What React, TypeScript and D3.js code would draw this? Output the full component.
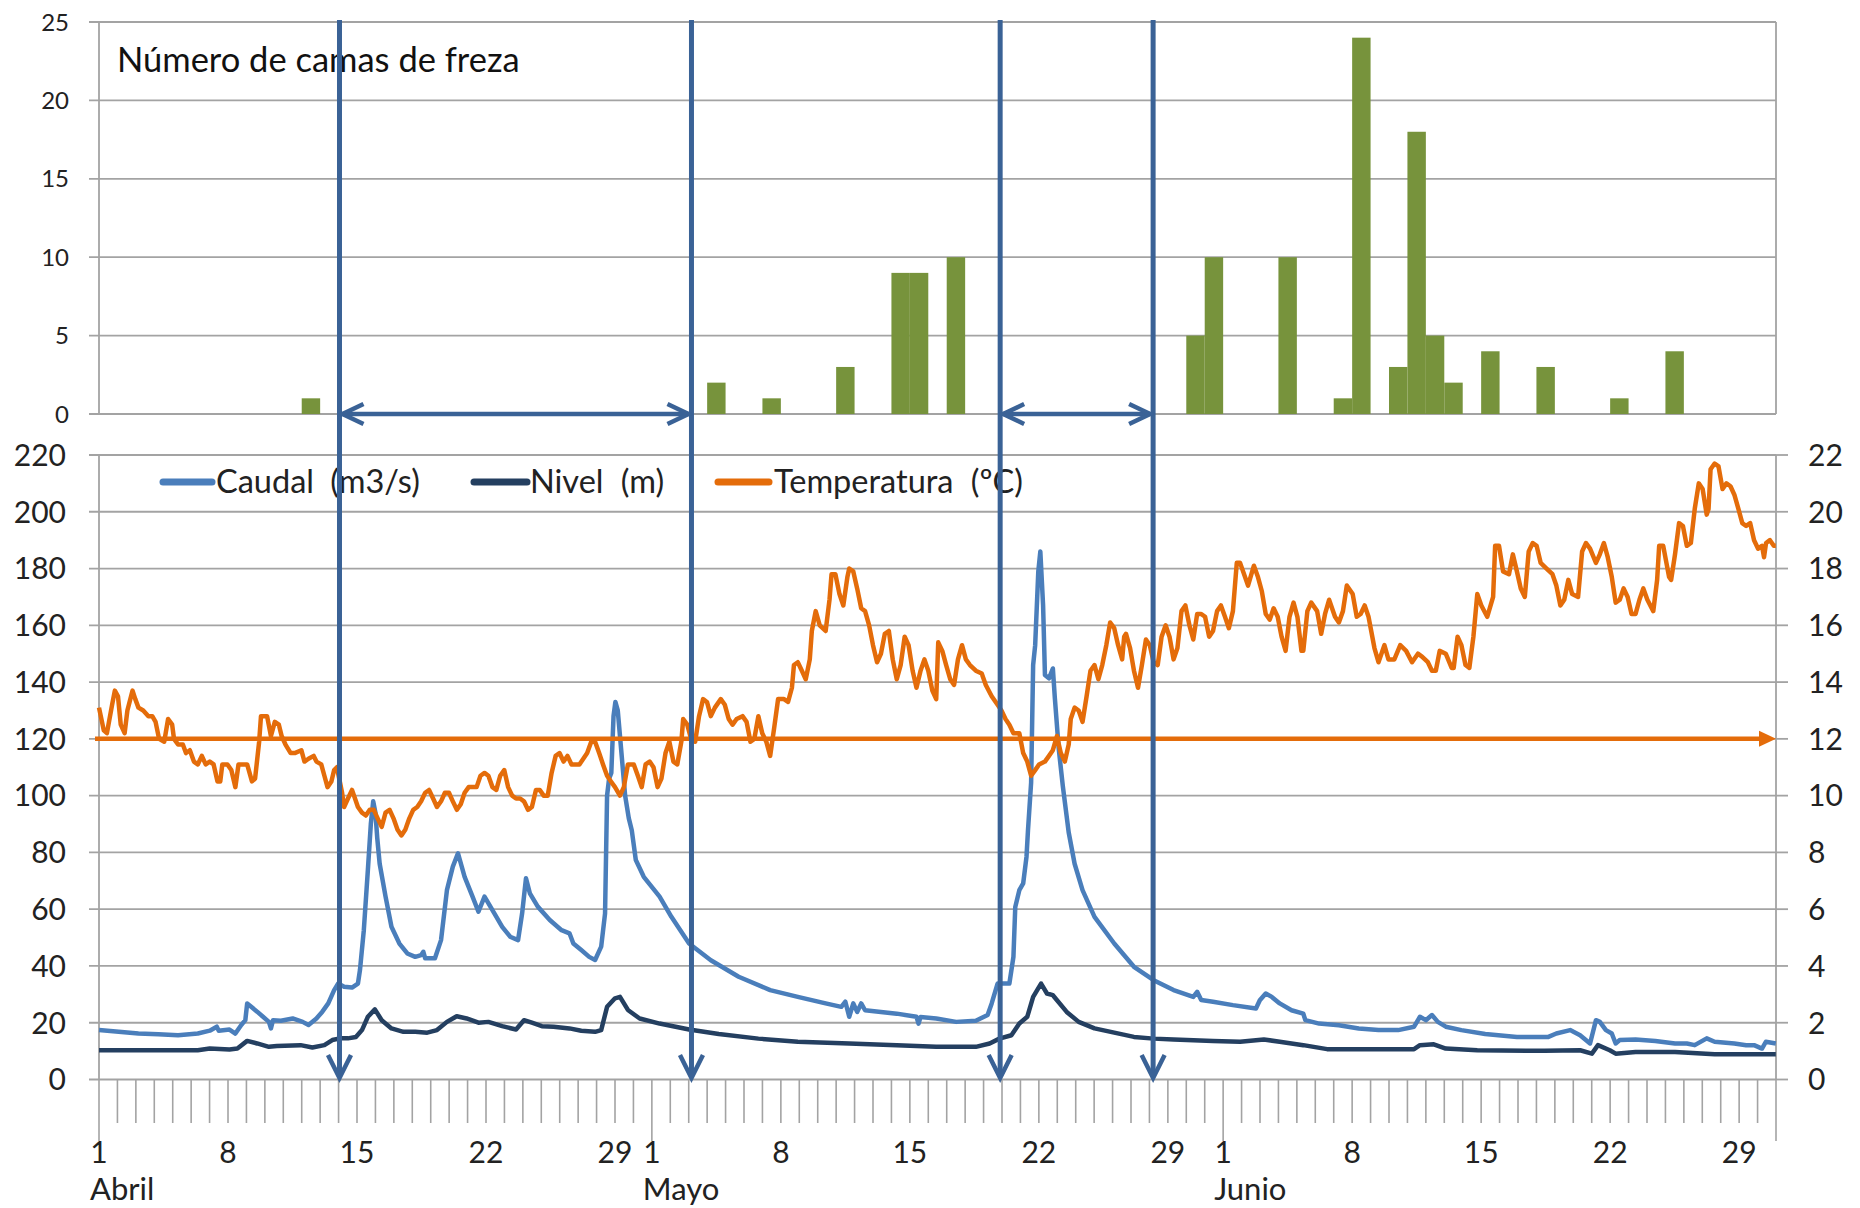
import * as d3 from 'd3';
import React from 'react';

// dias contados desde el 1 de abril (0 = 1 abril, 30 = 1 mayo, 61 = 1 junio, 91 = 1 julio)
const meses = ['Abril', 'Mayo', 'Junio'];
const inicioMes = [0, 30, 61];
const diasMes = [30, 31, 30];
const diasEtiqueta = [1, 8, 15, 22, 29];

// numero de camas de freza por dia
const camasDia = [11, 33, 36, 40, 43, 44, 46, 59, 60, 64, 67, 68, 70, 71, 72, 73, 75, 78, 82, 85];
const camasNum = [1, 2, 1, 3, 9, 9, 10, 5, 10, 10, 1, 24, 3, 18, 5, 2, 4, 3, 1, 4];

// periodos marcados con flechas (dia)
const flechasDia = [13.05, 32.15, 48.9, 57.2];
const periodos = [[13.05, 32.15], [48.9, 57.2]];

const umbralTemp = 12;

const ticksTop = [0, 5, 10, 15, 20, 25];
const ticksIzq = [0, 20, 40, 60, 80, 100, 120, 140, 160, 180, 200, 220];
const ticksDer = [0, 2, 4, 6, 8, 10, 12, 14, 16, 18, 20, 22];

// Caudal (m3/s) [dia, valor]
const caudal = [
  [0, 17.4], [1.07, 16.8], [2.14, 16.2], [3.22, 15.9], [4.29, 15.6], [5.36, 16.2], [6.01, 17.2], [6.39, 18.6], [6.5, 17.2],
  [7.08, 17.6], [7.4, 16.2], [7.72, 19.2], [7.94, 20.9], [8.04, 26.8], [8.26, 25.6], [8.58, 23.9], [8.9, 22.1], [9.22, 20.3],
  [9.33, 18.0], [9.44, 20.9], [9.87, 20.7], [10.51, 21.5], [11.05, 20.3], [11.37, 19.2], [11.8, 21.5], [12.12, 23.9],
  [12.44, 26.8], [12.76, 31.5], [12.98, 33.8], [13.3, 32.7], [13.73, 32.4], [14.05, 33.8], [14.16, 38.5], [14.37, 52.6],
  [14.59, 73.8], [14.75, 90], [14.88, 98], [15.0, 94], [15.1, 85], [15.23, 76], [15.55, 64.4], [15.87, 53.8], [16.3, 47.9],
  [16.73, 44.4], [17.16, 43.2], [17.48, 43.8], [17.6, 45], [17.7, 42.7], [18.23, 42.7], [18.56, 49.1], [18.88, 66.7],
  [19.2, 75], [19.48, 79.7], [19.84, 71.4], [20.27, 64.4], [20.59, 59.1], [20.92, 64.4], [21.35, 59.7], [21.88, 53.8],
  [22.31, 50.3], [22.74, 49.1], [22.96, 58.5], [23.17, 70.9], [23.38, 65.6], [23.81, 60.9], [24.46, 56.2], [25.1, 52.6],
  [25.53, 51.5], [25.74, 47.9], [26.17, 45.6], [26.6, 43.2], [26.92, 42.1], [27.25, 46.8], [27.46, 58.5], [27.57, 100],
  [27.68, 106], [27.8, 108], [27.92, 128], [28.02, 133], [28.15, 130], [28.35, 115], [28.55, 100], [28.75, 92],
  [28.91, 87.8], [29.13, 77.3], [29.56, 71.4], [30.42, 64.4], [31.06, 57.3], [32.02, 47.9], [33.2, 42], [34.71, 36.2],
  [36.42, 31.5], [37.92, 29.1], [39.43, 26.8], [40.28, 25.6], [40.5, 27.4], [40.71, 22.1], [40.93, 26.8], [41.14, 23.8],
  [41.36, 26.8], [41.57, 24.4], [43.29, 23.2], [44.36, 22.1], [44.47, 19.7], [44.58, 22], [45.43, 21.5], [46.51, 20.3],
  [47.58, 20.7], [48.22, 22.7], [48.44, 26.8], [48.76, 33.8], [49.4, 33.8], [49.62, 43.2], [49.72, 60.8], [49.94, 66.7],
  [50.15, 69.1], [50.33, 78.5], [50.41, 87.8], [50.58, 104.6], [50.69, 146], [50.8, 153], [50.97, 179], [51.08, 186],
  [51.23, 167], [51.33, 142.5], [51.55, 141.3], [51.76, 144.8], [51.87, 134.2], [52.08, 116.4], [52.3, 103.4],
  [52.62, 87], [52.94, 76], [53.37, 66.7], [54.02, 57.3], [55.09, 47.9], [56.16, 39.7], [57.23, 35], [58.31, 31.5],
  [59.38, 29.1], [59.59, 30.9], [59.81, 28], [60.45, 27.4], [61.53, 26.2], [62.78, 25], [62.99, 27.9], [63.31, 30.3],
  [63.64, 29.1], [64.07, 26.8], [64.71, 24.4], [65.35, 23.2], [65.46, 20.9], [66.21, 19.7], [67.28, 19.1], [68.36, 18],
  [69.43, 17.4], [70.5, 17.4], [71.36, 18.6], [71.68, 22.1], [72, 20.9], [72.33, 22.7], [72.65, 20.3], [73.08, 18.6],
  [73.93, 17.4], [75.22, 16], [76.94, 15], [78.65, 15], [79.08, 16.2], [79.83, 17.4], [80.37, 15.6], [80.91, 12.7],
  [81.23, 20.9], [81.44, 20.3], [81.77, 17.4], [82.09, 16.2], [82.3, 12.7], [82.52, 13.9], [83.38, 14.1], [84.45, 13.6],
  [85.52, 12.7], [86.16, 12.7], [86.59, 12.1], [87.24, 14.5], [87.67, 13.3], [88.74, 12.7], [89.38, 12.1], [89.81, 12.1],
  [90.24, 10.9], [90.45, 13.3], [90.99, 12.7],
];

// Nivel (m) [dia, valor]
const nivel = [
  [0, 1.03], [5.36, 1.03], [6.01, 1.09], [7.08, 1.06], [7.51, 1.09], [8.04, 1.36], [8.58, 1.27], [9.22, 1.15], [9.65, 1.18],
  [10.94, 1.21], [11.58, 1.13], [12.23, 1.21], [12.66, 1.39], [13.08, 1.45], [13.51, 1.45], [13.94, 1.5], [14.27, 1.74],
  [14.59, 2.21], [14.97, 2.47], [15.34, 2.09], [15.87, 1.8], [16.52, 1.68], [17.16, 1.68], [17.81, 1.65], [18.34, 1.74],
  [18.88, 2.03], [19.41, 2.23], [19.95, 2.15], [20.59, 2.0], [21.13, 2.03], [21.88, 1.88], [22.63, 1.76], [23.06, 2.09],
  [23.49, 2.0], [24.03, 1.88], [24.67, 1.86], [25.53, 1.8], [26.17, 1.72], [26.92, 1.68], [27.25, 1.74], [27.57, 2.56],
  [28.0, 2.86], [28.27, 2.91], [28.7, 2.45], [29.34, 2.15], [30.42, 1.97], [32.02, 1.76], [33.63, 1.6], [35.78, 1.44],
  [37.92, 1.33], [40.71, 1.27], [43.29, 1.21], [45.43, 1.15], [47.58, 1.15], [48.33, 1.27], [48.86, 1.44], [49.51, 1.56],
  [49.94, 1.97], [50.37, 2.21], [50.69, 2.91], [51.12, 3.38], [51.44, 3.03], [51.76, 2.97], [52.51, 2.38], [53.16, 2.03],
  [54.02, 1.8], [55.09, 1.65], [56.16, 1.5], [57.23, 1.44], [58.31, 1.41], [60.45, 1.36], [61.92, 1.33], [63.21, 1.41],
  [64.07, 1.33], [65.35, 1.21], [66.64, 1.07], [71.36, 1.07], [71.68, 1.21], [72.43, 1.24], [73.08, 1.09], [74.79, 1.03],
  [78.44, 1.01], [80.37, 1.03], [81.01, 0.91], [81.34, 1.21], [81.98, 1.03], [82.3, 0.91], [83.38, 0.97], [85.52, 0.97],
  [87.67, 0.89], [90.99, 0.89],
];

// Temperatura (ºC) [dia, valor]
const temperatura = [
  [0, 13.1], [0.26, 12.3], [0.43, 12.2], [0.71, 13.2], [0.86, 13.7], [1.03, 13.5], [1.18, 12.5], [1.39, 12.2], [1.54, 13.0],
  [1.82, 13.7], [1.97, 13.4], [2.14, 13.1], [2.4, 13.0], [2.68, 12.8], [2.89, 12.8], [3.07, 12.6], [3.26, 12.0], [3.54, 11.9],
  [3.75, 12.7], [3.97, 12.5], [4.07, 12.0], [4.29, 11.8], [4.55, 11.8], [4.72, 11.5], [4.93, 11.6], [5.15, 11.2], [5.36, 11.1],
  [5.58, 11.4], [5.79, 11.1], [6.01, 11.2], [6.22, 11.1], [6.43, 10.5], [6.58, 10.5], [6.69, 11.1], [6.97, 11.1], [7.18, 10.9],
  [7.4, 10.3], [7.57, 11.1], [7.83, 11.1], [8.04, 11.1], [8.3, 10.5], [8.47, 10.6], [8.69, 11.9], [8.79, 12.8], [9.12, 12.8],
  [9.33, 12.1], [9.54, 12.6], [9.76, 12.5], [9.91, 12.1], [10.12, 11.8], [10.4, 11.5], [10.62, 11.5], [10.98, 11.6],
  [11.15, 11.2], [11.37, 11.3], [11.65, 11.4], [11.8, 11.2], [12.06, 11.1], [12.23, 10.7], [12.4, 10.3], [12.61, 10.5],
  [12.76, 10.9], [12.91, 11.0], [13.19, 10.1], [13.3, 9.6], [13.51, 9.9], [13.73, 10.2], [13.84, 10.0], [14.05, 9.6],
  [14.27, 9.4], [14.48, 9.3], [14.69, 9.5], [14.91, 9.5], [15.12, 9.2], [15.34, 8.9], [15.55, 9.4], [15.77, 9.5], [15.98, 9.2],
  [16.2, 8.8], [16.41, 8.6], [16.62, 8.8], [16.84, 9.2], [17.05, 9.5], [17.27, 9.6], [17.48, 9.8], [17.7, 10.1], [17.91, 10.2],
  [18.13, 9.9], [18.34, 9.6], [18.56, 9.8], [18.77, 10.1], [18.99, 10.1], [19.2, 9.8], [19.42, 9.5], [19.63, 9.7], [19.84, 10.1],
  [20.06, 10.3], [20.27, 10.3], [20.49, 10.3], [20.7, 10.7], [20.92, 10.8], [21.13, 10.7], [21.35, 10.3], [21.56, 10.2],
  [21.77, 10.7], [21.99, 10.9], [22.2, 10.3], [22.42, 10.0], [22.63, 9.9], [22.85, 9.9], [23.06, 9.8], [23.28, 9.5],
  [23.49, 9.6], [23.71, 10.2], [23.92, 10.2], [24.13, 10.0], [24.35, 10.0], [24.56, 10.8], [24.78, 11.4], [24.99, 11.5],
  [25.21, 11.2], [25.42, 11.4], [25.64, 11.1], [25.85, 11.1], [26.07, 11.1], [26.28, 11.3], [26.49, 11.5], [26.71, 11.9],
  [26.92, 11.9], [27.14, 11.5], [27.35, 11.1], [27.57, 10.7], [27.78, 10.5], [28.0, 10.3], [28.27, 10.0], [28.48, 10.3],
  [28.7, 11.1], [29.02, 11.1], [29.24, 10.7], [29.45, 10.3], [29.66, 11.1], [29.88, 11.2], [30.09, 11.0], [30.31, 10.3],
  [30.52, 10.6], [30.74, 11.5], [30.95, 11.9], [31.17, 11.2], [31.38, 11.1], [31.6, 11.9], [31.7, 12.7], [31.92, 12.5],
  [32.13, 12.0], [32.35, 11.9], [32.56, 12.8], [32.78, 13.4], [32.99, 13.3], [33.2, 12.8], [33.42, 13.1], [33.74, 13.4],
  [33.96, 13.2], [34.17, 12.7], [34.38, 12.5], [34.6, 12.7], [34.92, 12.8], [35.14, 12.6], [35.35, 11.9], [35.56, 12.0],
  [35.78, 12.8], [35.99, 12.2], [36.21, 11.9], [36.42, 11.4], [36.64, 12.4], [36.85, 13.4], [37.17, 13.4], [37.39, 13.3],
  [37.6, 13.8], [37.71, 14.6], [37.92, 14.7], [38.14, 14.4], [38.35, 14.1], [38.57, 14.8], [38.68, 15.8], [38.89, 16.5],
  [39.11, 16.0], [39.43, 15.8], [39.64, 16.9], [39.75, 17.8], [39.96, 17.8], [40.18, 17.1], [40.39, 16.7], [40.61, 17.7],
  [40.71, 18.0], [40.93, 17.9], [41.14, 17.3], [41.36, 16.6], [41.57, 16.5], [41.79, 16.0], [42.0, 15.3], [42.22, 14.7],
  [42.43, 15.0], [42.64, 15.7], [42.86, 15.8], [43.07, 14.8], [43.29, 14.1], [43.5, 14.6], [43.72, 15.6], [43.93, 15.3],
  [44.15, 14.4], [44.36, 13.8], [44.58, 14.4], [44.79, 14.8], [45.0, 14.4], [45.22, 13.7], [45.43, 13.4], [45.54, 15.4],
  [45.76, 15.1], [45.97, 14.6], [46.19, 14.1], [46.4, 13.9], [46.61, 14.8], [46.83, 15.3], [47.04, 14.8], [47.26, 14.6],
  [47.58, 14.4], [47.9, 14.3], [48.12, 13.9], [48.44, 13.5], [48.76, 13.2], [48.97, 13.0], [49.19, 12.7], [49.4, 12.5],
  [49.62, 12.2], [49.94, 12.2], [50.15, 11.5], [50.37, 11.2], [50.58, 10.7], [50.8, 10.9], [51.01, 11.1], [51.33, 11.2],
  [51.55, 11.4], [51.76, 11.6], [51.98, 12.1], [52.19, 11.5], [52.41, 11.2], [52.62, 11.8], [52.73, 12.7], [52.94, 13.1],
  [53.16, 13.0], [53.37, 12.6], [53.59, 13.5], [53.8, 14.4], [54.02, 14.6], [54.23, 14.1], [54.44, 14.6], [54.66, 15.3],
  [54.87, 16.1], [55.09, 15.9], [55.3, 15.3], [55.52, 14.8], [55.63, 15.6], [55.73, 15.7], [55.95, 15.2], [56.16, 14.4],
  [56.38, 13.8], [56.59, 14.6], [56.81, 15.5], [57.02, 15.3], [57.23, 14.7], [57.45, 14.6], [57.66, 15.6], [57.88, 16.0],
  [58.09, 15.6], [58.31, 14.8], [58.52, 15.2], [58.74, 16.5], [58.95, 16.7], [59.17, 16.0], [59.38, 15.5], [59.59, 16.4],
  [59.81, 16.4], [60.02, 16.3], [60.24, 15.6], [60.45, 15.8], [60.67, 16.5], [60.88, 16.7], [61.1, 16.3], [61.31, 15.9],
  [61.53, 16.5], [61.74, 18.2], [61.92, 18.2], [62.35, 17.4], [62.67, 18.1], [62.89, 17.7], [63.1, 17.2], [63.31, 16.4],
  [63.53, 16.2], [63.74, 16.6], [63.96, 16.3], [64.17, 15.6], [64.39, 15.1], [64.6, 16.3], [64.82, 16.8], [65.03, 16.3],
  [65.25, 15.1], [65.35, 15.1], [65.57, 16.5], [65.78, 16.8], [66.1, 16.5], [66.32, 15.7], [66.53, 16.4], [66.75, 16.9],
  [67.07, 16.3], [67.28, 16.1], [67.5, 16.5], [67.71, 17.4], [68.03, 17.1], [68.25, 16.3], [68.46, 16.4], [68.68, 16.7],
  [68.89, 16.3], [69.21, 15.2], [69.43, 14.7], [69.75, 15.3], [69.97, 14.8], [70.29, 14.8], [70.61, 15.3], [70.93, 15.1],
  [71.25, 14.7], [71.57, 15.0], [71.79, 14.9], [72.11, 14.7], [72.33, 14.4], [72.54, 14.4], [72.75, 15.1], [73.08, 15.0],
  [73.4, 14.5], [73.51, 14.5], [73.72, 15.6], [73.93, 15.3], [74.15, 14.6], [74.36, 14.5], [74.58, 15.6], [74.79, 17.1],
  [75.01, 16.7], [75.33, 16.3], [75.65, 17.0], [75.76, 18.8], [75.97, 18.8], [76.19, 17.9], [76.51, 17.8], [76.72, 18.5],
  [76.94, 17.9], [77.15, 17.3], [77.37, 17.0], [77.58, 18.6], [77.8, 18.9], [78.01, 18.8], [78.23, 18.2], [78.55, 18.0],
  [78.87, 17.8], [79.08, 17.4], [79.3, 16.7], [79.51, 16.9], [79.73, 17.6], [79.94, 17.1], [80.26, 17.0], [80.48, 18.6],
  [80.69, 18.9], [80.91, 18.7], [81.23, 18.2], [81.44, 18.5], [81.66, 18.9], [81.87, 18.4], [82.09, 17.7], [82.3, 16.8],
  [82.52, 16.9], [82.73, 17.3], [82.95, 17.0], [83.16, 16.4], [83.38, 16.4], [83.59, 16.9], [83.8, 17.3], [84.02, 16.9],
  [84.34, 16.5], [84.55, 17.6], [84.66, 18.8], [84.88, 18.8], [85.2, 17.7], [85.31, 17.6], [85.52, 18.5], [85.74, 19.6],
  [85.95, 19.5], [86.16, 18.8], [86.38, 18.9], [86.59, 20.1], [86.81, 21.0], [87.02, 20.8], [87.24, 19.9], [87.34, 20.1],
  [87.45, 21.5], [87.67, 21.7], [87.88, 21.6], [88.1, 20.8], [88.31, 21.0], [88.53, 20.9], [88.74, 20.6], [88.96, 20.1],
  [89.17, 19.6], [89.38, 19.5], [89.6, 19.6], [89.81, 19.0], [90.03, 18.7], [90.24, 18.8], [90.35, 18.4], [90.46, 18.9],
  [90.67, 19.0], [90.88, 18.8], [90.99, 18.8],
];

const FONT = "Lato, 'Open Sans', sans-serif";
const GRID = '#A3A3A3';
const AZUL_FLECHA = '#3A6296';
const C_CAUDAL = '#4A7EBB';
const C_NIVEL = '#243F60';
const C_TEMP = '#E46C0A';
const C_BARRA = '#77933C';

export default function App() {
  const x = d3.scaleLinear().domain([0, 91]).range([99, 1776]);
  const yTop = d3.scaleLinear().domain([0, 25]).range([414, 22]);
  const yIzq = d3.scaleLinear().domain([0, 220]).range([1079.5, 455]);
  const yDer = d3.scaleLinear().domain([0, 22]).range([1079.5, 455]);

  const lineaIzq = d3.line<number[]>().x(d => x(d[0])).y(d => yIzq(d[1]));
  const lineaDer = d3.line<number[]>().x(d => x(d[0])).y(d => yDer(d[1]));

  const dias = d3.range(0, 92);
  const yEje = yIzq(0);

  return (
    <div style={{ position: 'absolute', left: 0, top: 0 }}>
      <svg width={1860} height={1208} style={{ display: 'block', background: '#fff' }} fontFamily={FONT}>
        {/* ---- grafico superior: camas de freza ---- */}
        {ticksTop.map(t => (
          <g key={'gt' + t}>
            <line x1={89} x2={1776} y1={yTop(t)} y2={yTop(t)} stroke={GRID} strokeWidth={1.8} />
            <text x={69} y={yTop(t)} dy="0.36em" textAnchor="end" fontSize={24} fill="#222">{t}</text>
          </g>
        ))}
        <line x1={99} x2={99} y1={yTop(25)} y2={yTop(0)} stroke={GRID} strokeWidth={1.8} />
        <line x1={1776} x2={1776} y1={yTop(25)} y2={yTop(0)} stroke={GRID} strokeWidth={1.8} />
        {camasDia.map((d, i) => (
          <rect key={'b' + i} x={x(d)} width={x(d + 1) - x(d)} y={yTop(camasNum[i])}
            height={yTop(0) - yTop(camasNum[i])} fill={C_BARRA} />
        ))}
        <text x={117} y={72} fontSize={34.5} fill="#111">Número de camas de freza</text>

        {/* ---- grafico inferior ---- */}
        {ticksIzq.map(t => (
          <g key={'gi' + t}>
            <line x1={89} x2={1776} y1={yIzq(t)} y2={yIzq(t)} stroke={GRID} strokeWidth={1.8} />
            <text x={66} y={yIzq(t)} dy="0.36em" textAnchor="end" fontSize={30} fill="#222">{t}</text>
          </g>
        ))}
        {ticksDer.map(t => (
          <g key={'gd' + t}>
            <line x1={1776} x2={1788} y1={yDer(t)} y2={yDer(t)} stroke={GRID} strokeWidth={1.8} />
            <text x={1808} y={yDer(t)} dy="0.36em" textAnchor="start" fontSize={30} fill="#222">{t}</text>
          </g>
        ))}
        <line x1={99} x2={99} y1={yIzq(220)} y2={yEje} stroke={GRID} strokeWidth={1.8} />
        <line x1={1776} x2={1776} y1={yIzq(220)} y2={yEje} stroke={GRID} strokeWidth={1.8} />

        {/* eje de fechas */}
        {dias.map(d => {
          const esMes = d === 0 || d === 91 || inicioMes.includes(d);
          return (
            <line key={'tk' + d} x1={x(d)} x2={x(d)} y1={yEje} y2={esMes ? 1141 : 1123}
              stroke={GRID} strokeWidth={1.6} />
          );
        })}
        {meses.map((m, i) => (
          <g key={m}>
            {diasEtiqueta.filter(n => n <= diasMes[i]).map(n => (
              <text key={m + n} x={x(inicioMes[i] + n - 1)} y={1163} textAnchor="middle" fontSize={30} fill="#222">{n}</text>
            ))}
            <text x={x(inicioMes[i]) - 9} y={1200} fontSize={31} fill="#222">{m}</text>
          </g>
        ))}

        {/* series */}
        <path d={lineaIzq(caudal) || ''} fill="none" stroke={C_CAUDAL} strokeWidth={4.5} strokeLinejoin="round" />
        <path d={lineaDer(nivel) || ''} fill="none" stroke={C_NIVEL} strokeWidth={4.5} strokeLinejoin="round" />
        <path d={lineaDer(temperatura) || ''} fill="none" stroke={C_TEMP} strokeWidth={4.5} strokeLinejoin="round" />

        {/* umbral de 12 ºC */}
        <line x1={95} x2={1760} y1={yDer(umbralTemp)} y2={yDer(umbralTemp)} stroke={C_TEMP} strokeWidth={4.5} />
        <path d={`M${x(91)},${yDer(umbralTemp)} L${x(91) - 17},${yDer(umbralTemp) - 8} L${x(91) - 17},${yDer(umbralTemp) + 8} Z`} fill={C_TEMP} />

        {/* leyenda */}
        <line x1={163} x2={212} y1={482} y2={482} stroke={C_CAUDAL} strokeWidth={7} strokeLinecap="round" />
        <text x={216} y={493} fontSize={32.5} fill="#222" style={{ wordSpacing: '8px' }}>Caudal (m3/s)</text>
        <line x1={474} x2={527} y1={482} y2={482} stroke={C_NIVEL} strokeWidth={7} strokeLinecap="round" />
        <text x={530} y={493} fontSize={32.5} fill="#222" style={{ wordSpacing: '9px' }}>Nivel (m)</text>
        <line x1={718} x2={769} y1={482} y2={482} stroke={C_TEMP} strokeWidth={7} strokeLinecap="round" />
        <text x={774} y={493} fontSize={32.5} fill="#222" style={{ wordSpacing: '9px' }}>Temperatura (ºC)</text>

        {/* flechas verticales */}
        {flechasDia.map((d, i) => (
          <g key={'fv' + i} stroke={AZUL_FLECHA} fill="none">
            <line x1={x(d)} x2={x(d)} y1={20} y2={1077} strokeWidth={5} />
            <path d={`M${x(d) - 11.5},${1055} L${x(d)},${1078} L${x(d) + 11.5},${1055}`} strokeWidth={4.5} />
          </g>
        ))}
        {/* flechas horizontales de periodo */}
        {periodos.map((p, i) => {
          const a = x(p[0]) + 3;
          const b = x(p[1]) - 3;
          const y0 = yTop(0);
          return (
            <g key={'fh' + i} stroke={AZUL_FLECHA} fill="none" strokeWidth={4.5}>
              <line x1={a} x2={b} y1={y0} y2={y0} />
              <path d={`M${a + 21},${y0 - 10} L${a},${y0} L${a + 21},${y0 + 10}`} />
              <path d={`M${b - 21},${y0 - 10} L${b},${y0} L${b - 21},${y0 + 10}`} />
            </g>
          );
        })}
      </svg>
    </div>
  );
}
